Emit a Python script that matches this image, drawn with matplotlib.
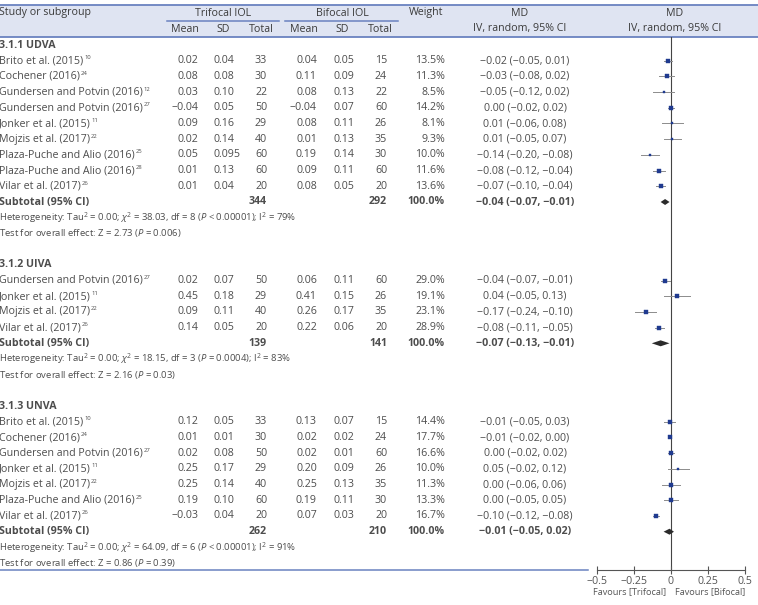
import numpy as np
import matplotlib.pyplot as plt

plt.rcParams['font.family'] = ['Open Sans', 'DejaVu Sans']
plt.rcParams['mathtext.fontset'] = 'custom'
plt.rcParams['mathtext.rm'] = 'Open Sans'
plt.rcParams['mathtext.it'] = 'Open Sans:italic'
plt.rcParams['mathtext.bf'] = 'Open Sans:bold'
plt.rcParams['mathtext.default'] = 'rm'

# ---- data -------------------------------------------------------------
groups = ['3.1.1 UDVA', '3.1.2 UIVA', '3.1.3 UNVA']

udva_study = ['Brito et al. (2015)', 'Cochener (2016)', 'Gundersen and Potvin (2016)',
              'Gundersen and Potvin (2016)', 'Jonker et al. (2015)', 'Mojzis et al. (2017)',
              'Plaza-Puche and Alio (2016)', 'Plaza-Puche and Alio (2016)', 'Vilar et al. (2017)']
udva_ref = [10, 24, 12, 27, 11, 22, 25, 28, 26]
udva_tri_mean = [0.02, 0.08, 0.03, -0.04, 0.09, 0.02, 0.05, 0.01, 0.01]
udva_tri_sd = [0.04, 0.08, 0.10, 0.05, 0.16, 0.14, 0.095, 0.13, 0.04]
udva_tri_n = [33, 30, 22, 50, 29, 40, 60, 60, 20]
udva_bi_mean = [0.04, 0.11, 0.08, -0.04, 0.08, 0.01, 0.19, 0.09, 0.08]
udva_bi_sd = [0.05, 0.09, 0.13, 0.07, 0.11, 0.13, 0.14, 0.11, 0.05]
udva_bi_n = [15, 24, 22, 60, 26, 35, 30, 60, 20]
udva_weight = [13.5, 11.3, 8.5, 14.2, 8.1, 9.3, 10.0, 11.6, 13.6]
udva_md = [-0.02, -0.03, -0.05, 0.00, 0.01, 0.01, -0.14, -0.08, -0.07]
udva_lo = [-0.05, -0.08, -0.12, -0.02, -0.06, -0.05, -0.20, -0.12, -0.10]
udva_hi = [0.01, 0.02, 0.02, 0.02, 0.08, 0.07, -0.08, -0.04, -0.04]

uiva_study = ['Gundersen and Potvin (2016)', 'Jonker et al. (2015)', 'Mojzis et al. (2017)',
              'Vilar et al. (2017)']
uiva_ref = [27, 11, 22, 26]
uiva_tri_mean = [0.02, 0.45, 0.09, 0.14]
uiva_tri_sd = [0.07, 0.18, 0.11, 0.05]
uiva_tri_n = [50, 29, 40, 20]
uiva_bi_mean = [0.06, 0.41, 0.26, 0.22]
uiva_bi_sd = [0.11, 0.15, 0.17, 0.06]
uiva_bi_n = [60, 26, 35, 20]
uiva_weight = [29.0, 19.1, 23.1, 28.9]
uiva_md = [-0.04, 0.04, -0.17, -0.08]
uiva_lo = [-0.07, -0.05, -0.24, -0.11]
uiva_hi = [-0.01, 0.13, -0.10, -0.05]

unva_study = ['Brito et al. (2015)', 'Cochener (2016)', 'Gundersen and Potvin (2016)',
              'Jonker et al. (2015)', 'Mojzis et al. (2017)', 'Plaza-Puche and Alio (2016)',
              'Vilar et al. (2017)']
unva_ref = [10, 24, 27, 11, 22, 25, 26]
unva_tri_mean = [0.12, 0.01, 0.02, 0.25, 0.25, 0.19, -0.03]
unva_tri_sd = [0.05, 0.01, 0.08, 0.17, 0.14, 0.10, 0.04]
unva_tri_n = [33, 30, 50, 29, 40, 60, 20]
unva_bi_mean = [0.13, 0.02, 0.02, 0.20, 0.25, 0.19, 0.07]
unva_bi_sd = [0.07, 0.02, 0.01, 0.09, 0.13, 0.11, 0.03]
unva_bi_n = [15, 24, 60, 26, 35, 30, 20]
unva_weight = [14.4, 17.7, 16.6, 10.0, 11.3, 13.3, 16.7]
unva_md = [-0.01, -0.01, 0.00, 0.05, 0.00, 0.00, -0.10]
unva_lo = [-0.05, -0.02, -0.02, -0.02, -0.06, -0.05, -0.12]
unva_hi = [0.03, 0.00, 0.02, 0.12, 0.06, 0.05, -0.08]

pooled_md = [-0.04, -0.07, -0.01]
pooled_lo = [-0.07, -0.13, -0.05]
pooled_hi = [-0.01, -0.01, 0.02]
het_chi2 = ['38.03', '18.15', '64.09']
het_df = [8, 3, 6]
het_p = ['< 0.00001', '= 0.0004', '< 0.00001']
het_i2 = [79, 83, 91]
z_val = ['2.73', '2.16', '0.86']
z_p = ['0.006', '0.03', '0.39']

xticks = [-0.5, -0.25, 0, 0.25, 0.5]
xtick_labels = ['\u22120.5', '\u22120.25', '0', '0.25', '0.5']

# ---- layout -----------------------------------------------------------
W, H = 758, 605
ROW0, STEP = 45, 15.7
TXT = '#4d4d4d'
HDR = '#3a3a3a'
BLUE_LINE = '#6a82c0'
BAND = '#dfe4f2'
SQ = '#1f3a8f'
FS = 7.7


def fmt(v):
    s = f'{v:.2f}' if round(v, 2) == v else f'{v:.3f}'
    return s.replace('-', '\u2212')


def ci(m, lo, hi):
    return f'{fmt(m)} ({fmt(lo)}, {fmt(hi)})'


def ypx(k):
    return ROW0 + STEP * k


fig = plt.figure(figsize=(W / 100, H / 100), dpi=100)
tab = fig.add_axes([0, 0, 1, 1])
tab.set_xlim(0, W)
tab.set_ylim(H, 0)
tab.axis('off')

# header band
tab.fill_between([0, W], 5, 37, color=BAND, lw=0)
tab.plot([0, W], [5, 5], color=BLUE_LINE, lw=1.3)
tab.plot([0, W], [37, 37], color=BLUE_LINE, lw=1.3)
tab.plot([167, 279], [21, 21], color=BLUE_LINE, lw=1.1)
tab.plot([285, 398], [21, 21], color=BLUE_LINE, lw=1.1)
tab.plot([0, 588], [570, 570], color=BLUE_LINE, lw=1.1)

hkw = dict(fontsize=FS, color=HDR, va='center')
tab.text(-1, 13, 'Study or subgroup', ha='left', **hkw)
tab.text(223, 13, 'Trifocal IOL', ha='center', **hkw)
tab.text(342, 13, 'Bifocal IOL', ha='center', **hkw)
tab.text(426, 13, 'Weight', ha='center', **hkw)
tab.text(520, 13, 'MD', ha='center', **hkw)
tab.text(520, 29, 'IV, random, 95% CI', ha='center', **hkw)
tab.text(675, 13, 'MD', ha='center', **hkw)
tab.text(675, 29, 'IV, random, 95% CI', ha='center', **hkw)
for x, s in zip([185, 223, 261, 304, 342, 380], ['Mean', 'SD', 'Total'] * 2):
    tab.text(x, 29, s, ha='center', **hkw)

# forest axes
ax = fig.add_axes([597 / W, (H - 570) / H, 148 / W, (570 - 37) / H])
ax.set_xlim(-0.5, 0.5)
ax.set_ylim((570 - ROW0) / STEP, (37 - ROW0) / STEP)
ax.patch.set_alpha(0)
for sp in ['top', 'left', 'right']:
    ax.spines[sp].set_visible(False)
ax.spines['bottom'].set_color('#555555')
ax.spines['bottom'].set_linewidth(0.8)
ax.set_yticks([])
ax.set_xticks(xticks)
ax.set_xticklabels(xtick_labels)
ax.tick_params(axis='x', direction='inout', length=6, width=0.8, color='#555555',
               labelsize=FS, labelcolor='#555555', pad=1)
ax.axvline(0, color='#444444', lw=0.8, zorder=1)
ax.text(-0.03, (592 - ROW0) / STEP, 'Favours [Trifocal]', ha='right', va='center',
        fontsize=6.6, color='#555555', clip_on=False)
ax.text(0.03, (592 - ROW0) / STEP, 'Favours [Bifocal]', ha='left', va='center',
        fontsize=6.6, color='#555555', clip_on=False)

data = [
    (udva_study, udva_ref, udva_tri_mean, udva_tri_sd, udva_tri_n, udva_bi_mean, udva_bi_sd,
     udva_bi_n, udva_weight, udva_md, udva_lo, udva_hi),
    (uiva_study, uiva_ref, uiva_tri_mean, uiva_tri_sd, uiva_tri_n, uiva_bi_mean, uiva_bi_sd,
     uiva_bi_n, uiva_weight, uiva_md, uiva_lo, uiva_hi),
    (unva_study, unva_ref, unva_tri_mean, unva_tri_sd, unva_tri_n, unva_bi_mean, unva_bi_sd,
     unva_bi_n, unva_weight, unva_md, unva_lo, unva_hi),
]

k = 0
for g, (study, ref, tm, ts, tn, bm, bs, bn, wt, md, lo, hi) in enumerate(data):
    kw = dict(fontsize=FS, color=TXT, va='center')
    tab.text(-1, ypx(k), groups[g], ha='left', fontweight='bold', **kw)
    k += 1
    for i in range(len(study)):
        y = ypx(k)
        name = tab.text(-1, y, study[i], ha='left', **kw)
        # small reference number right after the study name
        tab.annotate(str(ref[i]), xy=(1, 0.78), xycoords=name, xytext=(0.6, 0),
                     textcoords='offset points', ha='left', va='center',
                     fontsize=4.2, color=TXT)
        tab.text(198, y, fmt(tm[i]), ha='right', **kw)
        tab.text(213, y, fmt(ts[i]), ha='left', **kw)
        tab.text(267, y, str(tn[i]), ha='right', **kw)
        tab.text(317, y, fmt(bm[i]), ha='right', **kw)
        tab.text(334, y, fmt(bs[i]), ha='left', **kw)
        tab.text(387, y, str(bn[i]), ha='right', **kw)
        tab.text(445, y, f'{wt[i]:.1f}%', ha='right', **kw)
        tab.text(525, y, ci(md[i], lo[i], hi[i]), ha='center', **kw)
        ax.plot([lo[i], hi[i]], [k, k], color='#8c8c8c', lw=0.7, zorder=2)
        ax.plot(md[i], k, 's', ms=0.65 * np.sqrt(wt[i]), color=SQ, mec=SQ, mew=0.3, zorder=3)
        k += 1
    y = ypx(k)
    tab.text(-1, y, 'Subtotal (95% CI)', ha='left', fontweight='bold', **kw)
    tab.text(267, y, str(sum(tn)), ha='right', fontweight='bold', **kw)
    tab.text(387, y, str(sum(bn)), ha='right', fontweight='bold', **kw)
    tab.text(445, y, '100.0%', ha='right', fontweight='bold', **kw)
    tab.text(525, y, ci(pooled_md[g], pooled_lo[g], pooled_hi[g]), ha='center',
             fontweight='bold', **kw)
    dh = 0.19
    ax.fill([pooled_lo[g], pooled_md[g], pooled_hi[g], pooled_md[g]],
            [k, k - dh, k, k + dh], color='#2b2b2b', lw=0, zorder=3)
    k += 1
    skw = dict(fontsize=6.8, color=TXT, va='center', ha='left')
    tab.text(-1, ypx(k), 'Heterogeneity: Tau$^2$ = 0.00; $\\mathit{\\chi}^2$ = ' + het_chi2[g]
             + ', df = ' + str(het_df[g]) + ' ($\\mathit{P}$ ' + het_p[g] + '); I$^2$ = '
             + str(het_i2[g]) + '%', **skw)
    k += 1
    tab.text(-1, ypx(k), 'Test for overall effect: Z = ' + z_val[g] + ' ($\\mathit{P}$ = '
             + z_p[g] + ')', **skw)
    k += 2

fig.savefig('out.png', dpi=100)
